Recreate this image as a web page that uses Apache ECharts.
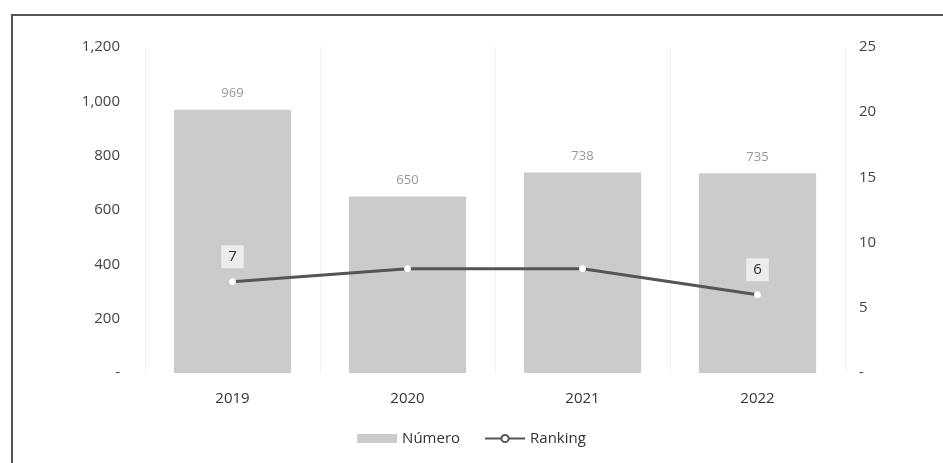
<!DOCTYPE html>
<html><head><meta charset="utf-8">
<script src="https://cdn.jsdelivr.net/npm/echarts@6/dist/echarts.min.js"></script>
<style>
html,body{margin:0;padding:0;background:#fff;}
#frame{position:absolute;left:11px;top:14px;width:940px;height:449px;border-left:2px solid #555;border-top:2px solid #555;box-sizing:border-box;}
#c{position:absolute;left:0;top:0;width:943px;height:463px;}
</style></head>
<body>
<div id="c"></div>
<div id="frame"></div>
<script>
const years = ['2019', '2020', '2021', '2022'];
const numero = [969, 650, 738, 735];
const ranking = [7, 8, 8, 6];
const rankingLabelShown = [true, false, false, true];
const leftTicks = [0, 200, 400, 600, 800, 1000, 1200];
const rightTicks = [0, 5, 10, 15, 20, 25];

const chart = echarts.init(document.getElementById('c'));
const font = '"Open Sans", Lato, sans-serif';
chart.setOption({
  animation: false,
  textStyle: { fontFamily: font },
  grid: { left: 145, right: 98, top: 47, bottom: 90 },
  legend: {
    bottom: 12, left: 'center', itemGap: 24, itemWidth: 40, itemHeight: 9,
    textStyle: { fontSize: 15, color: '#333', fontFamily: font },
    data: [
      { name: 'Número', icon: 'rect' },
      { name: 'Ranking', itemStyle: { color: '#fff', borderColor: '#555', borderWidth: 2 } }
    ]
  },
  xAxis: {
    type: 'category', data: years,
    axisLine: { show: false }, axisTick: { show: false },
    splitLine: { show: true, lineStyle: { color: '#f2f2f2' } },
    axisLabel: { fontSize: 15, color: '#333', margin: 18, fontFamily: font }
  },
  yAxis: [
    {
      type: 'value', min: 0, max: 1200, interval: 200,
      axisLine: { show: false }, axisTick: { show: false },
      splitLine: { show: false },
      axisLabel: {
        fontSize: 15, color: '#444', margin: 25, fontFamily: font,
        formatter: v => v === 0 ? '-' : v.toLocaleString('en-US')
      }
    },
    {
      type: 'value', min: 0, max: 25, interval: 5,
      axisLine: { show: false }, axisTick: { show: false },
      splitLine: { show: false },
      axisLabel: {
        fontSize: 15, color: '#444', margin: 14, fontFamily: font,
        formatter: v => v === 0 ? '-' : String(v)
      }
    }
  ],
  series: [
    {
      name: 'Número', type: 'bar', barWidth: '67%',
      data: numero,
      itemStyle: { color: '#cbcbcb' },
      label: { show: true, position: 'top', distance: 10, fontSize: 13, color: '#999', fontFamily: font }
    },
    {
      name: 'Ranking', type: 'line', yAxisIndex: 1,
      data: ranking.map((v, i) => ({
        value: v,
        label: { show: rankingLabelShown[i] }
      })),
      symbol: 'circle', symbolSize: 6,
      lineStyle: { color: '#555', width: 3 },
      itemStyle: { color: '#fff', borderColor: '#fff', borderWidth: 1 },
      label: {
        show: false, position: 'top', distance: 10, fontSize: 15, color: '#333',
        backgroundColor: '#ececec', padding: [4, 7], fontFamily: font
      }
    }
  ]
});
</script>
</body></html>
